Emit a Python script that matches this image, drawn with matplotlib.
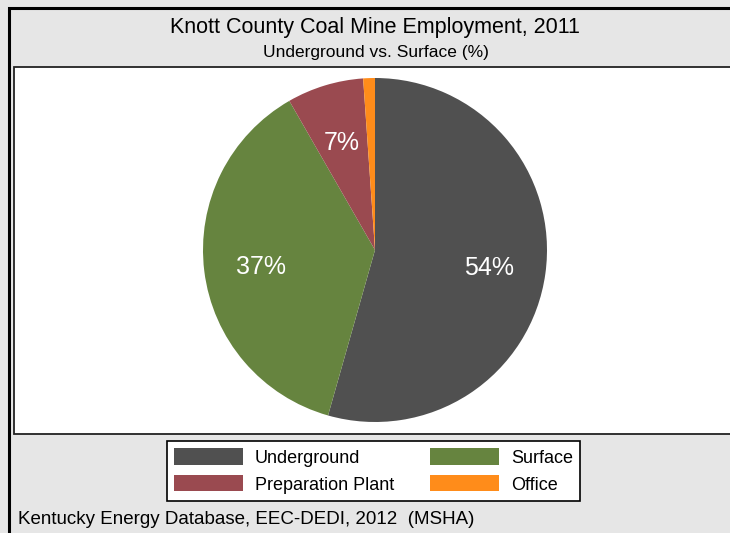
"""Knott County coal mine employment pie, 2011."""
import matplotlib
matplotlib.use("Agg")
import matplotlib.pyplot as plt
from matplotlib.patches import Rectangle, Patch

plt.rcParams["font.family"] = ["Liberation Sans", "DejaVu Sans"]

W, H = 730, 533

# shares (%), clockwise from 12 o'clock
categories = ["Underground", "Surface", "Preparation Plant", "Office"]
shares = [54.4, 37.3, 7.2, 1.1]
pct_labels = ["54%", "37%", "7%", ""]
colors = ["#505050", "#66843f", "#9a4a50", "#ff8c1a"]

TITLE = "Knott County Coal Mine Employment, 2011"
SUBTITLE = "Underground vs. Surface (%)"
SOURCE = "Kentucky Energy Database, EEC-DEDI, 2012  (MSHA)"


def fx(px):
    return px / W


def fy(py):
    return 1 - py / H


fig = plt.figure(figsize=(W / 100, H / 100), dpi=100)
fig.patch.set_facecolor("#e6e6e6")

# outer frame (cut off on the right and bottom like the original)
fig.add_artist(Rectangle((fx(9), fy(H + 20)), fx(W + 40), fy(8) - fy(H + 20),
                         transform=fig.transFigure, fill=False,
                         edgecolor="black", lw=2.2, zorder=-2))

# white plot region
fig.add_artist(Rectangle((fx(14), fy(434)), fx(W + 20), fy(67) - fy(434),
                         transform=fig.transFigure, facecolor="white",
                         edgecolor="#222222", lw=1.3, zorder=-1))

fig.text(fx(375), fy(27), TITLE, ha="center", va="center", fontsize=15.5)
fig.text(fx(376), fy(52), SUBTITLE, ha="center", va="center", fontsize=12.5)

# pie: centre (375, 250), radius ~172 px
r = 172
ax = fig.add_axes([fx(375 - r), fy(250 + r), 2 * r / W, 2 * r / H])
ax.set_zorder(2)
wedges, texts = ax.pie(shares, colors=colors, startangle=90, counterclock=False,
                       radius=1.0, wedgeprops=dict(linewidth=0))
label_pos = [(489, 268), (261, 267), (342, 143), None]
for lab, pos in zip(pct_labels, label_pos):
    if pos is None:
        continue
    ax.text((pos[0] - 375) / r, (250 - pos[1]) / r, lab, color="white",
            fontsize=18, ha="center", va="center")
ax.set_xlim(-1, 1)
ax.set_ylim(-1, 1)
ax.axis("off")

# legend fills row by row in the original: reorder for matplotlib's column fill
order = [0, 2, 1, 3]
handles = [Patch(facecolor=colors[i], edgecolor="none") for i in order]
leg = fig.legend(handles, [categories[i] for i in order], ncol=2, loc="center",
                 bbox_to_anchor=(fx(373.5), fy(471)), fontsize=13,
                 handlelength=3.8, handleheight=1.0, handletextpad=0.67,
                 columnspacing=2.0, labelspacing=0.48, borderpad=0.4,
                 fancybox=False, framealpha=1, edgecolor="black")
leg.get_frame().set_linewidth(1.2)

fig.text(fx(18), fy(520), SOURCE, ha="left", va="center", fontsize=13.5)

fig.savefig("out.png", dpi=100, facecolor=fig.get_facecolor())
